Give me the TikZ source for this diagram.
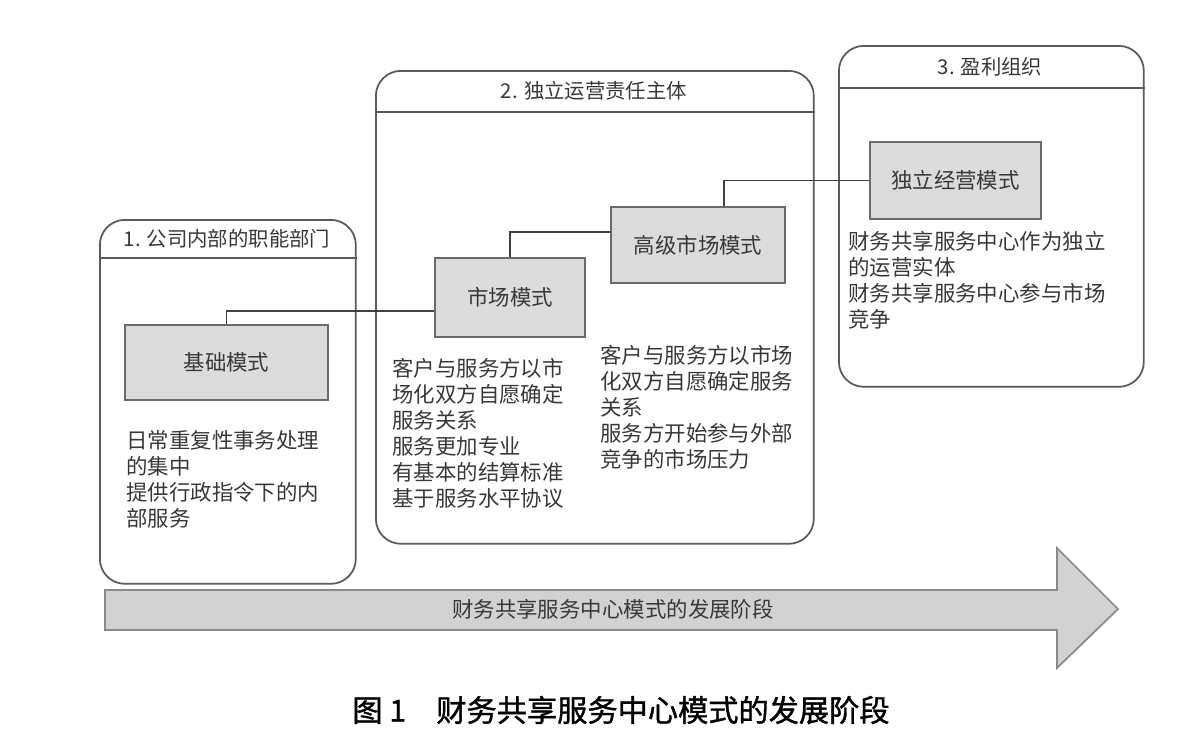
\documentclass[tikz,border=0pt]{standalone}
\usepackage{fontspec}
\setmainfont{Noto Sans CJK SC}
\newfontfamily\capfont{Noto Sans CJK SC}[FakeBold=1.2]
\usepackage{xcolor}
\usetikzlibrary{positioning, calc}
\definecolor{framegray}{HTML}{5A5A5A}
\definecolor{modefill}{HTML}{DCDCDC}
\definecolor{modeline}{HTML}{6A6A6A}
\definecolor{arrowfill}{HTML}{D2D2D2}
\definecolor{arrowline}{HTML}{8A8A8A}
\definecolor{txtgray}{HTML}{383838}

\begin{document}
\begin{tikzpicture}[
                x=0.02cm, y=-0.02cm, % pixel grid of the scan
                every node/.style={font=\fontsize{12.2}{14.8}\selectfont, text=txtgray, inner sep=0pt}, % text look
                stagebox/.style={draw=framegray, line width=1pt, rounded corners=0.5cm, anchor=north west}, % outer stage frames
                modebox/.style={draw=modeline, fill=modefill, line width=1.3pt}, % grey mode boxes
                desc/.style={align=left, anchor=north west}, % descriptions
                head/.style={font=\fontsize{11.6}{14}\selectfont}, % frame titles
                link/.style={draw=black!75, line width=0.9pt} % connectors
                ]
                % stage frames
                \node[stagebox, minimum width=5.12cm, minimum height=7.28cm] (stageone) at (99,219) {};
                \node[stagebox, minimum width=8.76cm, minimum height=9.46cm] (stagetwo) at (375,70) {};
                \node[stagebox, minimum width=6.1cm, minimum height=6.82cm] (stagethree) at (838,45) {};
                \draw[framegray, line width=1pt] (stageone.west |- 0,258) -- (stageone.east |- 0,258);
                \draw[framegray, line width=1pt] (stagetwo.west |- 0,112) -- (stagetwo.east |- 0,112);
                \draw[framegray, line width=1pt] (stagethree.west |- 0,88) -- (stagethree.east |- 0,88);
                \node[head] (headone) at (227,239) {1. 公司内部的职能部门};
                \node[head] (headtwo) at (594,91) {2. 独立运营责任主体};
                \node[head] (headthree) at (990,67) {3. 盈利组织};
                % mode boxes
                \node[modebox, minimum width=4.06cm, minimum height=1.5cm] (jichu) at (226.5,362.5) {基础模式};
                \node[modebox, minimum width=3cm, minimum height=1.58cm] (shichang) at (510,297.5) {市场模式};
                \node[modebox, minimum width=3.48cm, minimum height=1.52cm] (gaoji) at (698,245) {高级市场模式};
                \node[modebox, minimum width=3.42cm, minimum height=1.54cm] (duli) at (955.5,180.5) {独立经营模式};
                \draw[link] (jichu.north) |- (shichang.west |- 0,311);
                \draw[link] (shichang.north) |- (gaoji.west |- 0,232);
                \draw[link] (gaoji.north -| 724,0) |- (duli.west);
                % descriptions
                \node[desc] (descone) at (126,430) {日常重复性事务处理\\的集中\\提供行政指令下的内\\部服务};
                \node[desc] (desctwo) at (392,358) {客户与服务方以市\\场化双方自愿确定\\服务关系\\服务更加专业\\有基本的结算标准\\基于服务水平协议};
                \node[desc] (descthree) at (600,345) {客户与服务方以市场\\化双方自愿确定服务\\关系\\服务方开始参与外部\\竞争的市场压力};
                \node[desc] (descfour) at (848,231) {财务共享服务中心作为独立\\的运营实体\\财务共享服务中心参与市场\\竞争};
                % development arrow
                \draw[draw=arrowline, fill=arrowfill, line width=1pt] (105,590) -- (1057,590) -- (1057,548) -- (1118,609)
                    -- (1057,668) -- (1057,630) -- (105,630) -- cycle;
                \node (phase) at (613,609) {财务共享服务中心模式的发展阶段};
                % caption
                \node[font=\fontsize{17.2}{20}\selectfont\capfont, text=black] (caption) at (621,710) {图 1\quad 财务共享服务中心模式的发展阶段};
                \useasboundingbox (0,0) rectangle (1200,745);
            \end{tikzpicture}
\end{document}
